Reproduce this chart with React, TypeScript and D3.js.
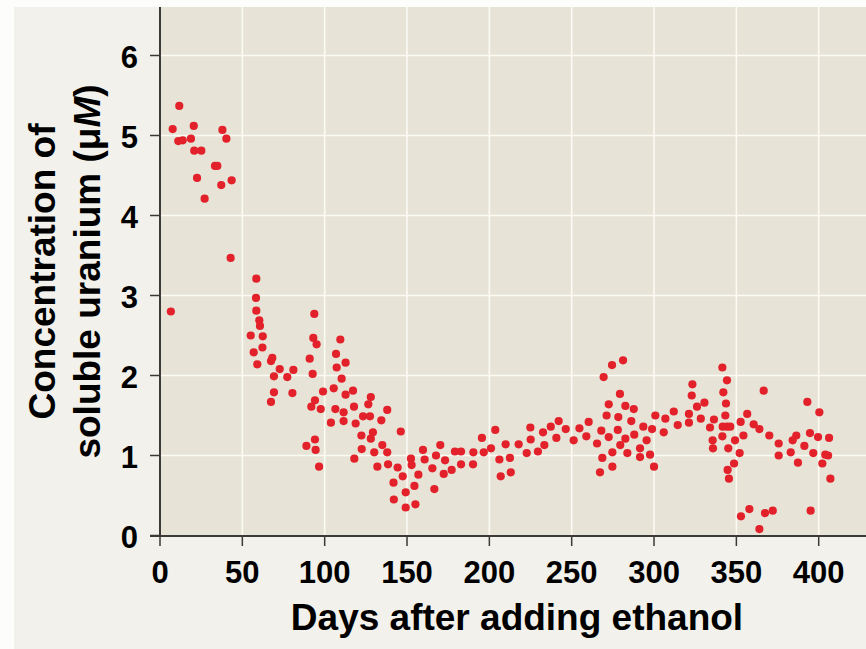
import React from "react";
import * as d3 from "d3";

const days: number[] = [
  6.6, 7.7, 11.7, 11.1, 13.8, 20.5, 18.8, 20.8, 25.1, 22.5, 27.1, 33.4, 34.8, 37.2, 37.9, 40.3, 43.5, 42.9,
  58.5, 58.3, 58.5, 60.3, 60.7, 62.4, 55.1, 62.2, 56.9, 59.1, 67.4, 68.2, 69.2, 72.7, 69.2, 67.4, 77.3, 81, 80.4,
  88.9, 90.9, 92.7, 93.7, 93.1, 95.1, 91.9, 94.1, 97.6, 94.1, 94.5, 96.6, 99, 105.5, 103.8, 106.5, 106.9, 107.3,
  109.5, 110.3, 111.5, 111.5, 112.7, 112.7, 117.2, 117.8, 118.8, 118, 122.3, 123.3, 127.5, 122.5, 128, 129.3,
  126.5, 128, 130.1, 132, 134.4, 135, 138, 138, 138.5, 141.8, 142, 144.3, 146.2, 147.4, 149.2, 149.2, 152.4,
  152.8, 154.5, 155.1, 156.9, 159.7, 160.7, 165.4, 166.6, 167.6, 170.2, 172.3, 173.1, 177.1, 179.1, 182.8, 182.8,
  190.3, 190.1, 195.5, 196.6, 201, 203.6, 206.1, 206.9, 209.9, 212.5, 213, 217.8, 222.7, 224.9, 225.1, 229.5,
  232.6, 233.4, 237.3, 240.7, 242.1, 246.4, 251.2, 254.7, 258.9, 260.3, 265.4, 267.2, 268, 268.6, 269.4, 271.2,
  272.5, 272.5, 274.5, 274.7, 274.7, 278.3, 278, 279.3, 279.5, 281.2, 282.6, 282.6, 283.8, 286.2, 287.7, 288,
  291.5, 291.5, 293.5, 295.5, 297.6, 298.8, 300, 300.8, 305.9, 306.9, 312, 314.4, 321.2, 321.2, 322.9, 323.3,
  326.1, 328.4, 330.6, 334, 335.6, 335.8, 336.4, 341.5, 341.7, 341.5, 342.1, 343.3, 343.7, 344.3, 344.3, 346.3,
  345.1, 344.7, 345.5, 348.6, 349.2, 352, 352.6, 354.3, 352.8, 357.9, 356.6, 360.5, 364, 364, 366.6, 367.4,
  372.1, 370, 375.7, 375.7, 383, 384.2, 386.4, 387.4, 391.3, 393.1, 394.7, 395.1, 396.7, 399.6, 400.4, 402.2,
  404, 405.7, 406.3, 407.1,
];

const uranium: number[] = [
  2.8, 5.08, 5.37, 4.93, 4.94, 5.12, 4.96, 4.81, 4.81, 4.47, 4.21, 4.62, 4.62, 4.38, 5.07, 4.96, 4.44, 3.47,
  3.21, 2.97, 2.81, 2.69, 2.62, 2.49, 2.5, 2.35, 2.29, 2.14, 2.18, 2.22, 1.99, 2.08, 1.79, 1.67, 1.98, 2.07, 1.78,
  1.12, 2.21, 2.02, 2.77, 2.47, 2.39, 1.61, 1.69, 1.58, 1.2, 1.07, 0.86, 1.8, 1.84, 1.41, 1.58, 2.27, 2.1,
  2.45, 1.96, 1.54, 1.43, 2.16, 1.76, 1.81, 1.61, 1.4, 0.96, 1.25, 1.49, 1.49, 1.08, 1.21, 1.29,
  1.64, 1.73, 1.04, 0.86, 1.44, 1.13, 1.57, 1.04, 0.89, 0.66, 0.45, 0.85, 1.3, 0.74, 0.54, 0.35, 0.96,
  0.88, 0.62, 0.39, 0.76, 1.07, 0.95, 0.84, 0.58, 1.0, 1.13, 0.77, 0.94, 0.82, 1.05, 1.05, 0.89,
  1.04, 0.89, 1.22, 1.04, 1.09, 1.32, 0.95, 0.74, 1.14, 0.97, 0.79, 1.14, 1.03, 1.35, 1.2, 1.05,
  1.29, 1.13, 1.36, 1.22, 1.43, 1.33, 1.19, 1.34, 1.24, 1.42, 1.15, 0.79, 1.31, 0.97, 1.98, 1.5,
  1.64, 1.23, 2.13, 1.04, 0.86, 1.48, 1.32, 1.77, 1.13, 2.19, 1.62, 1.21, 1.03, 1.43, 1.58, 1.26,
  1.09, 0.98, 1.36, 1.19, 1.01, 1.33, 0.86, 1.5, 1.29, 1.46, 1.55, 1.38, 1.41, 1.52, 1.75, 1.89,
  1.61, 1.46, 1.66, 1.35, 1.19, 1.09, 1.45, 2.1, 1.36, 1.24, 1.79, 1.5, 1.65, 1.94, 1.36, 1.36,
  1.09, 0.82, 0.71, 0.9, 1.19, 1.03, 1.42, 1.25, 0.24, 0.33, 1.52, 1.39, 1.33, 0.08, 1.81, 0.28,
  0.31, 1.25, 1.15, 1.0, 1.04, 1.19, 1.25, 0.91, 1.12, 1.67, 1.28, 0.31, 1.03, 1.23, 1.54, 0.9,
  1.01, 1.0, 1.22, 0.71,
];

const xTicks: number[] = [0, 50, 100, 150, 200, 250, 300, 350, 400];
const yTicks: number[] = [0, 1, 2, 3, 4, 5, 6];
const xTitle = "Days after adding ethanol";
const yTitleLine1 = "Concentration of";
const yTitleLine2a = "soluble uranium (\u03bc";
const yTitleLine2b = "M";
const yTitleLine2c = ")";

export default function App() {
  const W = 866;
  const H = 649;
  const plotLeft = 160;
  const plotTop = 7;
  const plotRight = 866;
  const plotBottom = 536;
  const x = d3.scaleLinear().domain([0, 400]).range([160, 818.7]);
  const y = d3.scaleLinear().domain([0, 6]).range([535.5, 55.5]);
  const font = "'Liberation Sans', Arial, Helvetica, sans-serif";
  const axisColor = "#3a3a36";

  return (
    <svg
      width={W}
      height={H}
      style={{ position: "absolute", left: 0, top: 0, display: "block" }}
      fontFamily={font}
    >
      <rect x={0} y={0} width={W} height={H} fill="#fdfdfb" />
      <rect x={14} y={7} width={W - 14} height={H - 7} fill="#f2f1eb" />
      <rect
        x={plotLeft}
        y={plotTop}
        width={plotRight - plotLeft}
        height={plotBottom - plotTop}
        fill="#e7e4d7"
      />
      {xTicks
        .filter((t) => t > 0)
        .map((t) => (
          <line
            key={"gx" + t}
            x1={x(t)}
            x2={x(t)}
            y1={plotTop}
            y2={plotBottom}
            stroke="#fbfaf3"
            strokeWidth={1.6}
          />
        ))}
      {yTicks
        .filter((t) => t > 0)
        .map((t) => (
          <line
            key={"gy" + t}
            x1={plotLeft}
            x2={plotRight}
            y1={y(t)}
            y2={y(t)}
            stroke="#fbfaf3"
            strokeWidth={1.6}
          />
        ))}
      {days.map((d, i) => (
        <circle key={"p" + i} cx={x(d)} cy={y(uranium[i])} r={4.1} fill="#e2212a" />
      ))}
      <line x1={plotLeft} x2={plotLeft} y1={plotTop} y2={plotBottom} stroke={axisColor} strokeWidth={2} />
      <line x1={150} x2={plotRight} y1={plotBottom} y2={plotBottom} stroke={axisColor} strokeWidth={2} />
      {yTicks.map((t) => (
        <g key={"ty" + t}>
          <line x1={150} x2={plotLeft} y1={y(t)} y2={y(t)} stroke={axisColor} strokeWidth={1.5} />
          <text
            x={138}
            y={y(t) + 12.5}
            textAnchor="end"
            fontSize={31}
            fontWeight="bold"
            fill="#000"
          >
            {t}
          </text>
        </g>
      ))}
      {xTicks.map((t) => (
        <g key={"tx" + t}>
          <line x1={x(t)} x2={x(t)} y1={plotBottom} y2={546} stroke={axisColor} strokeWidth={1.5} />
          <text x={x(t)} y={583} textAnchor="middle" fontSize={31} fontWeight="bold" fill="#000">
            {t}
          </text>
        </g>
      ))}
      <text x={517} y={630} textAnchor="middle" fontSize={37} fontWeight="bold" fill="#000">
        {xTitle}
      </text>
      <g transform="translate(55,271.5) rotate(-90)">
        <text x={0} y={0} textAnchor="middle" fontSize={37} fontWeight="bold" fill="#000">
          {yTitleLine1}
        </text>
      </g>
      <g transform="translate(100,271.5) rotate(-90)">
        <text x={0} y={0} textAnchor="middle" fontSize={37} fontWeight="bold" fill="#000">
          {yTitleLine2a}
          <tspan fontStyle="italic">{yTitleLine2b}</tspan>
          {yTitleLine2c}
        </text>
      </g>
    </svg>
  );
}
